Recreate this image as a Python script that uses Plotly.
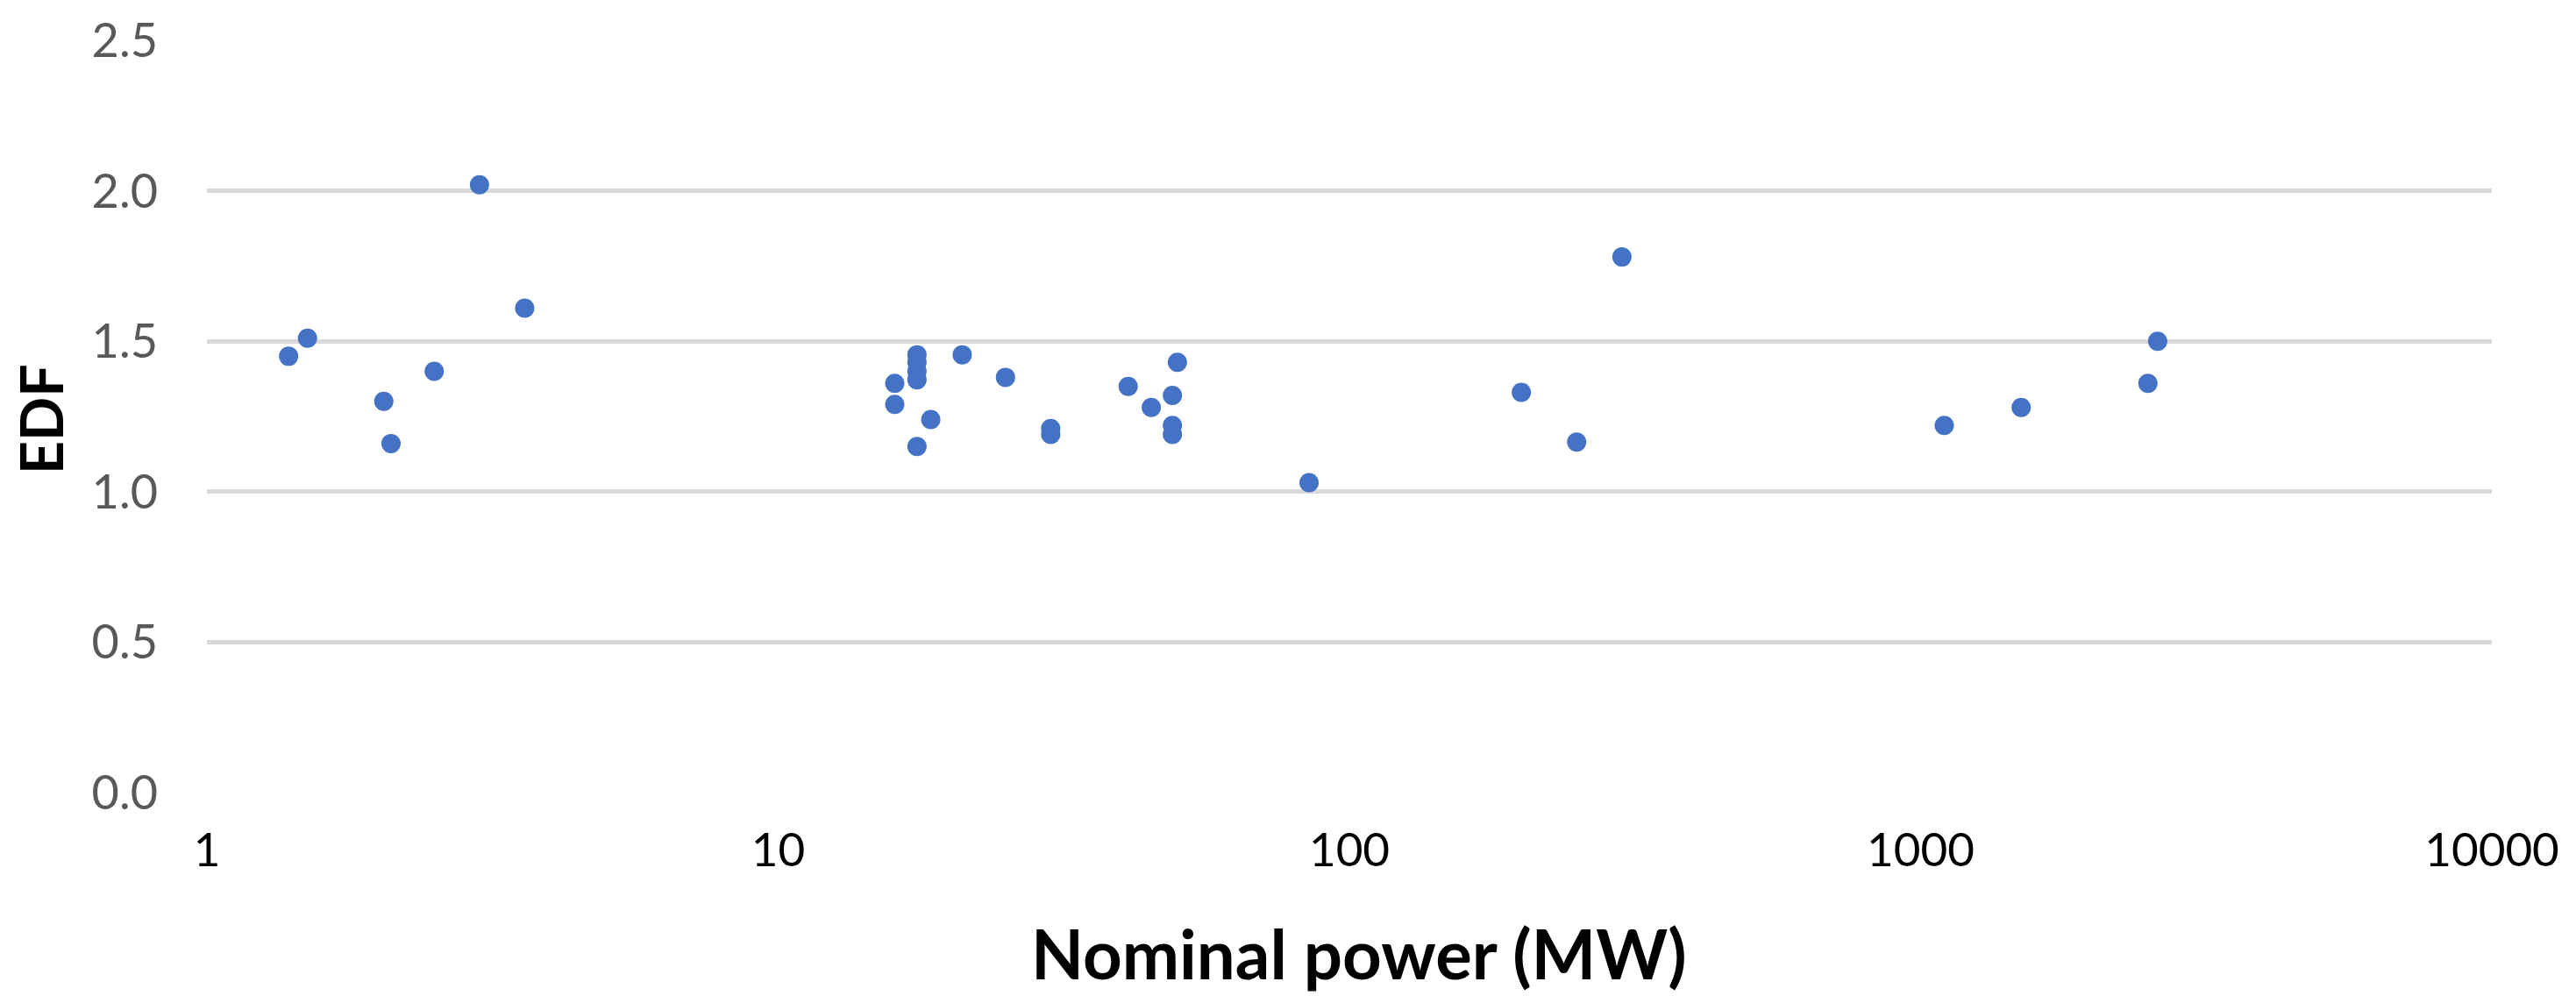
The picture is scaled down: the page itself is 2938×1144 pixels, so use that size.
import plotly.graph_objects as go

# Nominal power (MW) and EDF values
power = [1.39, 1.5, 2.04, 2.1, 2.5, 3.0, 3.6,
         16, 16, 17.5, 17.5, 17.5, 17.5, 17.5, 18.5, 21, 25, 30, 30,
         41, 45, 49, 49, 49, 50, 85, 200, 250, 300, 1100, 1500, 2500, 2600]
edf = [1.45, 1.51, 1.30, 1.16, 1.40, 2.02, 1.61,
       1.36, 1.29, 1.455, 1.43, 1.40, 1.372, 1.15, 1.24, 1.455, 1.38, 1.21, 1.19,
       1.35, 1.28, 1.32, 1.22, 1.19, 1.43, 1.03, 1.33, 1.165, 1.78, 1.22, 1.28, 1.36, 1.50]

x_ticks = [1, 10, 100, 1000, 10000]
x_tick_text = ["1", "10", "100", "1000", "10000"]
y_ticks = [0.0, 0.5, 1.0, 1.5, 2.0, 2.5]
y_tick_text = ["0.0", "0.5", "1.0", "1.5", "2.0", "2.5"]

FONT = "Lato"
W, H = 2938, 1144
L, R, T, B = 236, 96, 46, 240

fig = go.Figure()
fig.add_trace(go.Scatter(
    x=power, y=edf, mode="markers",
    marker=dict(color="#4472C4", size=22, line=dict(width=0)),
    showlegend=False,
))

fig.update_layout(
    width=W, height=H,
    margin=dict(l=L, r=R, t=T, b=B, pad=0),
    paper_bgcolor="white", plot_bgcolor="white",
    font=dict(family=FONT),
)
fig.update_xaxes(
    type="log", range=[0, 4],
    tickvals=x_ticks, ticktext=x_tick_text,
    showgrid=False, zeroline=False, showline=False,
    ticks="", ticklabelstandoff=30,
    tickfont=dict(family=FONT, size=53, color="#000000"),
)
fig.update_yaxes(
    range=[0, 2.5],
    tickvals=y_ticks, ticktext=y_tick_text,
    showgrid=True, gridcolor="#D9D9D9", gridwidth=4.5,
    zeroline=False, showline=False,
    ticks="", ticklabelstandoff=55,
    tickfont=dict(family=FONT, size=54, color="#595959"),
)

plot_w = W - L - R
plot_h = H - T - B
fig.add_annotation(
    text="<b>Nominal power (MW)</b>", xref="paper", yref="paper",
    x=(1550 - L) / plot_w, y=-(1087 - (H - B)) / plot_h,
    xanchor="center", yanchor="middle", showarrow=False,
    font=dict(family=FONT, size=78, color="#000000"),
)
fig.add_annotation(
    text="<b>EDF</b>", xref="paper", yref="paper",
    x=-(L - 46) / plot_w, y=((H - B) - 478) / plot_h,
    xanchor="center", yanchor="middle", showarrow=False, textangle=-90,
    font=dict(family=FONT, size=66, color="#000000"),
)

fig.write_html("out.html", config={"displayModeBar": False},
               post_script="document.body.style.margin='0';")
